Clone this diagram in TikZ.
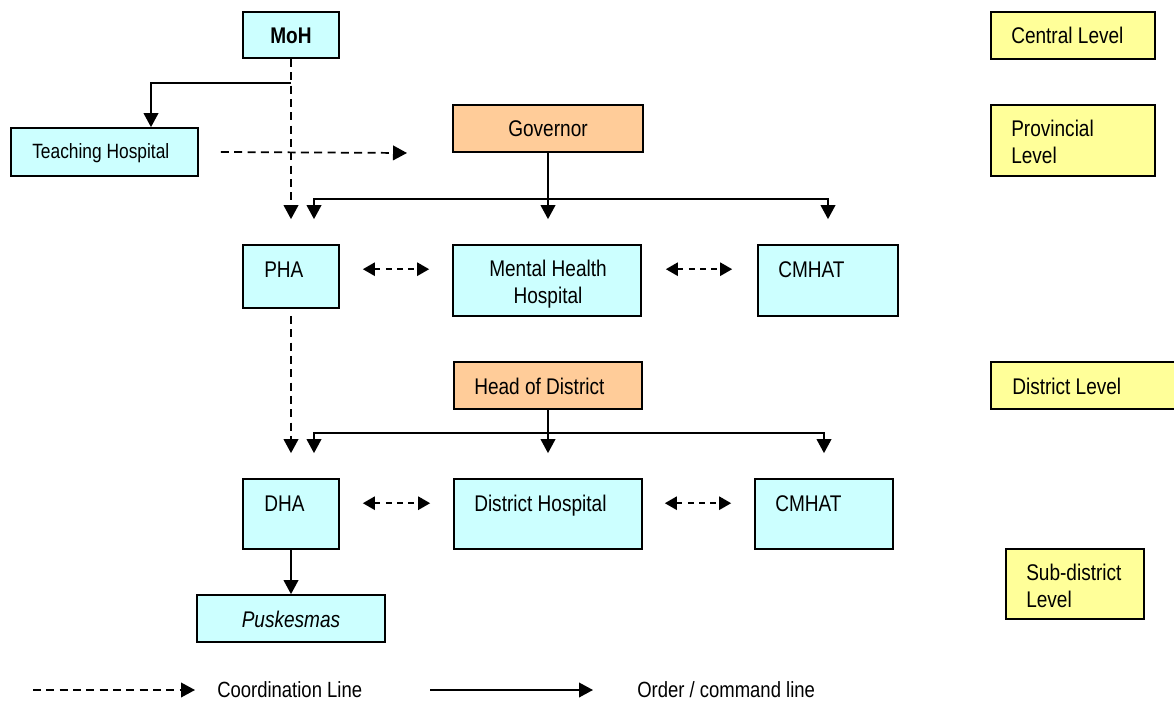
\documentclass[tikz,border=0pt]{standalone}
\usepackage{fontspec}
\setmainfont{Liberation Sans}[FakeStretch=0.84]
\usetikzlibrary{arrows.meta}
\usetikzlibrary{calc}
\usetikzlibrary{fit}

\begin{document}
\begin{tikzpicture}[x=0.75pt,y=0.75pt,yscale=-1,xscale=1,
  box/.style={draw=black,line width=1.3pt,inner sep=0pt},
  hbox/.style={box,fill={rgb, 255:red, 204; green, 255; blue, 255}},
  obox/.style={box,fill={rgb, 255:red, 255; green, 204; blue, 153}},
  lbox/.style={box,fill={rgb, 255:red, 255; green, 255; blue, 153}},
  txt/.style={inner sep=0pt,anchor=base west,align=left,font=\fontsize{17}{20.25}\selectfont},
  order/.style={line width=1.3pt,-{Triangle[length=10.5pt,width=11pt]}},
  coord/.style={order,dash pattern=on 6pt off 4pt},
  both/.style={line width=1.3pt,dash pattern=on 4.5pt off 4pt,{Triangle[length=9pt,width=10pt]}-{Triangle[length=9pt,width=10pt]}}]
\useasboundingbox (0,0) rectangle (1174,702);

%Boxes: central level
\node [hbox,fit={(243,12) (339,58)}] (moh) {};
\node [txt,anchor=base,font=\fontsize{17}{20.25}\selectfont\bfseries] (moh-t) at (291,44) {MoH};
\node [hbox,fit={(11,128) (198,176)}] (teach) {};
\node [txt,font=\fontsize{15.5}{18}\selectfont] (teach-t) at (32,159) {Teaching Hospital};

%Boxes: provincial level
\node [obox,fit={(453,105) (643,152)}] (gov) {};
\node [txt,anchor=base] (gov-t) at (548,137) {Governor};
\node [hbox,fit={(243,245) (339,308)}] (pha) {};
\node [txt] (pha-t) at (264,277) {PHA};
\node [hbox,fit={(453,245) (641,316)}] (mhh) {};
\node [txt,anchor=base,align=center] (mhh-t) at (548,303) {Mental Health\\Hospital};
\node [hbox,fit={(758,245) (898,316)}] (cmhat1) {};
\node [txt] (cmhat1-t) at (778,277) {CMHAT};

%Boxes: district level
\node [obox,fit={(454,362) (642,409)}] (hod) {};
\node [txt] (hod-t) at (474,394) {Head of District};
\node [hbox,fit={(243,479) (339,549)}] (dha) {};
\node [txt] (dha-t) at (264,511) {DHA};
\node [hbox,fit={(454,479) (642,549)}] (dhosp) {};
\node [txt] (dhosp-t) at (474,511) {District Hospital};
\node [hbox,fit={(755,479) (893,549)}] (cmhat2) {};
\node [txt] (cmhat2-t) at (775,511) {CMHAT};
\node [hbox,fit={(197,595) (385,642)}] (pusk) {};
\node [txt,anchor=base] (pusk-t) at (291,627) {\itshape Puskesmas};

%Boxes: levels
\node [lbox,fit={(991,12) (1155,59)}] (lev1) {};
\node [txt] (lev1-t) at (1011,44) {Central Level};
\node [lbox,fit={(991,105) (1155,176)}] (lev2) {};
\node [txt] (lev2-t) at (1011,164) {Provincial\\Level};
\node [lbox,fit={(991,362) (1200,409)}] (lev3) {};
\node [txt] (lev3-t) at (1012,394) {District Level};
\node [lbox,fit={(1006,549) (1144,619)}] (lev4) {};
\node [txt] (lev4-t) at (1026,607) {Sub-district\\Level};

%Connectors: command
\draw [order] ($(moh.south)+(0,24)$) -| ($(teach.north)+(46.5,0)$);
\draw [order,shorten >=18.75pt] (gov.south) -- (gov.south |- mhh.north);
\draw [order,shorten >=18.75pt] ($(gov.south)+(0,46)$) -| ($(pha.north)+(23,0)$);
\draw [order,shorten >=18.75pt] ($(gov.south)+(0,46)$) -| (cmhat1.north);
\draw [order,shorten >=18.75pt] (hod.south) -- (hod.south |- dhosp.north);
\draw [order,shorten >=18.75pt] ($(hod.south)+(0,23)$) -| ($(dha.north)+(23,0)$);
\draw [order,shorten >=18.75pt] ($(hod.south)+(0,23)$) -| (cmhat2.north);
\draw [order] (dha.south) -- (dha.south |- pusk.north);

%Connectors: coordination
\coordinate (tend) at (407,153);
\draw [coord] ($(teach.east)+(22,0)$) -- (tend);
\draw [coord,shorten >=18.75pt] (moh.south) -- (moh.south |- pha.north);
\draw [coord,shorten <=5.25pt,shorten >=18.75pt] (pha.south) -- (pha.south |- dha.north);
\draw [both,shorten <=17.25pt,shorten >=17.25pt] (pha.east |- pha-t) -- (mhh.west |- pha-t);
\draw [both,shorten <=18pt,shorten >=18.75pt] (mhh.east |- cmhat1-t) -- (cmhat1.west |- cmhat1-t);
\draw [both,shorten <=17.25pt,shorten >=17.25pt] (dha.east |- dha-t) -- (dhosp.west |- dha-t);
\draw [both,shorten <=16.5pt,shorten >=17.25pt] (dhosp.east |- cmhat2-t) -- (cmhat2.west |- cmhat2-t);

%Legend
\coordinate (k1) at (33,690);
\coordinate (k2) at (195,690);
\coordinate (k3) at (430,690);
\coordinate (k4) at (593,690);
\draw [coord] (k1) -- (k2);
\node [txt,font=\fontsize{16.5}{19}\selectfont] (key1) at (217,697) {Coordination Line};
\draw [order] (k3) -- (k4);
\node [txt,font=\fontsize{16.5}{19}\selectfont] (key2) at (637,697) {Order / command line};

\end{tikzpicture}
\end{document}
